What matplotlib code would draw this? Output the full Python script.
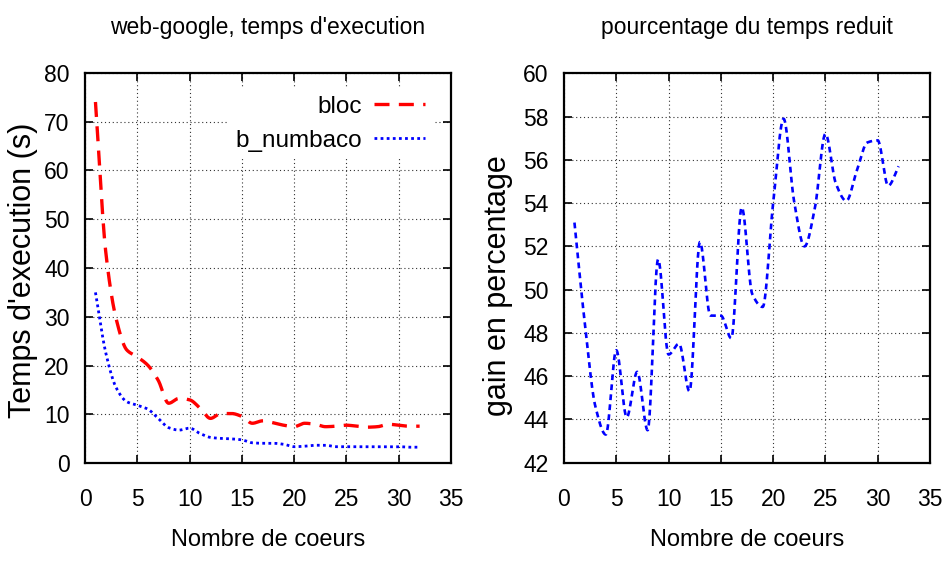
import numpy as np
import matplotlib
matplotlib.use("Agg")
import matplotlib.pyplot as plt

# ---------------- data ----------------
cores = list(range(1, 33))
bloc = [74.0, 43.0, 29.4, 23.2, 21.8, 20.1, 17.0, 12.3, 13.3, 13.0, 11.3, 9.2,
        10.2, 10.2, 9.6, 8.2, 8.7, 8.3, 7.8, 7.5, 8.2, 8.0, 7.5, 7.6,
        7.8, 7.6, 7.4, 7.5, 8.0, 7.8, 7.6, 7.6]
b_numbaco = [35.0, 22.5, 15.4, 12.6, 11.9, 11.1, 9.2, 7.3, 6.8, 7.2, 6.1, 5.3,
             5.1, 5.0, 4.8, 4.2, 4.1, 4.1, 3.9, 3.4, 3.5, 3.7, 3.7, 3.4,
             3.4, 3.4, 3.4, 3.4, 3.4, 3.4, 3.3, 3.3]
gain = [53.1, 48.4, 44.6, 43.3, 47.2, 44.1, 46.2, 43.5, 51.4, 47.0, 47.5, 45.3,
        52.2, 48.8, 48.8, 47.75, 53.8, 49.8, 49.2, 54.0, 57.9, 54.1, 52.0, 53.8,
        57.2, 54.9, 54.1, 55.5, 56.8, 56.9, 54.8, 55.7]

xticks = [0, 5, 10, 15, 20, 25, 30, 35]
yticks_left = [0, 10, 20, 30, 40, 50, 60, 70, 80]
yticks_right = [42, 44, 46, 48, 50, 52, 54, 56, 58, 60]

title_left = "web-google, temps d'execution"
title_right = "pourcentage du temps reduit"
xlabel = "Nombre de coeurs"
ylabel_left = "Temps d'execution (s)"
ylabel_right = "gain en percentage"

plt.rcParams['font.family'] = ["Liberation Sans", "DejaVu Sans"]
FS = 16.5


def mcsplines(x, y, n=800):
    """monotone cubic (Fritsch-Carlson, gnuplot 'smooth mcsplines') for drawing"""
    x = np.asarray(x, float)
    y = np.asarray(y, float)
    h = np.diff(x)
    delta = np.diff(y) / h
    m = len(x)
    d = np.zeros(m)
    d[0] = delta[0]
    d[-1] = delta[-1]
    for k in range(1, m - 1):
        if delta[k - 1] * delta[k] <= 0:
            d[k] = 0.0
        else:
            w1 = 2 * h[k] + h[k - 1]
            w2 = h[k] + 2 * h[k - 1]
            d[k] = (w1 + w2) / (w1 / delta[k - 1] + w2 / delta[k])
    xs = np.linspace(x[0], x[-1], n)
    idx = np.clip(np.searchsorted(x, xs) - 1, 0, m - 2)
    hh = h[idx]
    t = (xs - x[idx]) / hh
    h00 = 2 * t ** 3 - 3 * t ** 2 + 1
    h10 = t ** 3 - 2 * t ** 2 + t
    h01 = -2 * t ** 3 + 3 * t ** 2
    h11 = t ** 3 - t ** 2
    ys = h00 * y[idx] + h10 * hh * d[idx] + h01 * y[idx + 1] + h11 * hh * d[idx + 1]
    return xs, ys


fig = plt.figure(figsize=(9.46, 5.64), dpi=100)
ax1 = fig.add_axes([85 / 946, 1 - 463.3 / 564, 366 / 946, 390.6 / 564])
ax2 = fig.add_axes([564 / 946, 1 - 462.7 / 564, 366 / 946, 389.4 / 564])

for ax in (ax1, ax2):
    ax.set_xlim(0, 35)
    ax.set_xticks(xticks)
    ax.grid(True, color="#333333", linestyle=(0, (1, 2.5)), linewidth=0.8)
    ax.set_axisbelow(True)
    for s in ax.spines.values():
        s.set_linewidth(1.6)
    ax.tick_params(direction="in", length=6, width=1.2, top=True, right=True,
                   labelsize=FS)
    ax.tick_params(axis="x", pad=18)
    ax.tick_params(axis="y", pad=11)
    ax.set_xlabel(xlabel, fontsize=17, labelpad=13)

# left panel
xs, ys = mcsplines(cores, bloc)
ax1.plot(xs, ys, color="#ff0000", linewidth=2.4, linestyle=(0, (4.5, 2.8)),
         label="bloc")
xs, ys = mcsplines(cores, b_numbaco)
ax1.plot(xs, ys, color="#0000ff", linewidth=2.0, linestyle=(0, (1, 1.2)),
         label="b_numbaco")
ax1.set_ylim(0, 80)
ax1.set_yticks(yticks_left)
ax1.set_title(title_left, fontsize=FS, pad=28)
ax1.set_ylabel(ylabel_left, fontsize=22)
ax1.yaxis.set_label_coords(-0.128, 0.495)
leg = ax1.legend(loc="upper right", bbox_to_anchor=(0.95, 0.96), markerfirst=False,
                 fontsize=17.5, frameon=True, fancybox=False, framealpha=1,
                 handlelength=2.1, handletextpad=0.5, labelspacing=0.5,
                 borderaxespad=0, borderpad=0.3)
leg.get_frame().set_edgecolor("none")
leg.get_frame().set_facecolor("white")

# right panel
xs, ys = mcsplines(cores, gain)
ax2.plot(xs, ys, color="#0000ff", linewidth=1.9, linestyle=(0, (2.2, 1.6)))
ax2.set_ylim(42, 60)
ax2.set_yticks(yticks_right)
ax2.set_title(title_right, fontsize=FS, pad=28)
ax2.set_ylabel(ylabel_right, fontsize=22)
ax2.yaxis.set_label_coords(-0.139, 0.454)

fig.savefig("out.png", dpi=100)
